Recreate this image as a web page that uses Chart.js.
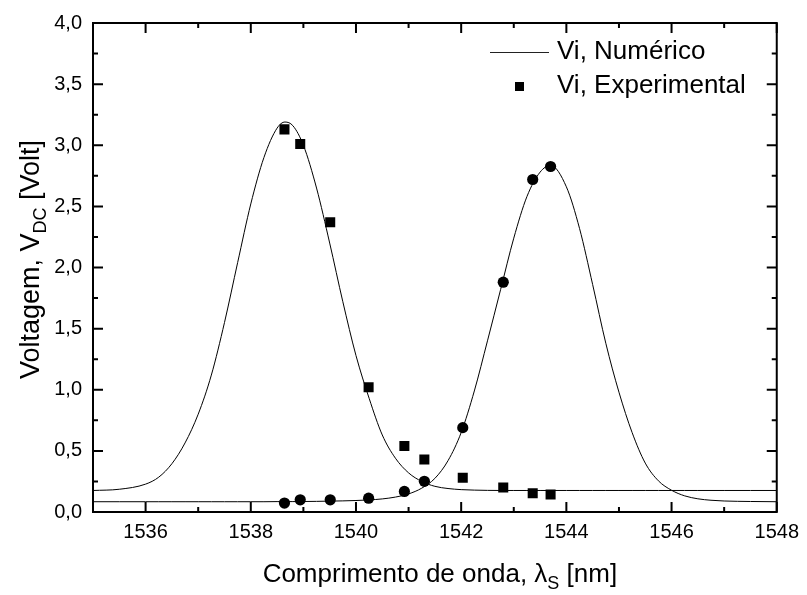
<!DOCTYPE html>
<html><head><meta charset="utf-8">
<script src="https://cdn.jsdelivr.net/npm/chart.js@4/dist/chart.umd.min.js"></script>
<style>html,body{margin:0;padding:0;background:#fff}#wrap{width:807px;height:595px}</style>
</head><body><div id="wrap"><canvas id="c" width="807" height="595"></canvas></div>
<script>
const curveX = [1535, 1535.5, 1536, 1536.25, 1536.5, 1536.75, 1537, 1537.25, 1537.5, 1537.75,
  1538, 1538.25, 1538.5, 1538.65, 1538.8, 1539, 1539.25, 1539.5, 1539.75, 1540,
  1540.25, 1540.5, 1540.75, 1541, 1541.25, 1541.5, 1541.75, 1542, 1542.25, 1542.5,
  1542.75, 1543, 1543.25, 1543.5, 1543.7, 1544, 1544.25, 1544.5, 1544.75, 1545,
  1545.25, 1545.5, 1545.75, 1546, 1546.25, 1546.5, 1546.75, 1547, 1547.5, 1548];
const numericoPico1 = [0.176, 0.186, 0.228, 0.285, 0.395, 0.565, 0.80, 1.12, 1.55, 2.04,
  2.52, 2.90, 3.14, 3.19, 3.16, 3.00, 2.65, 2.20, 1.72, 1.28,
  0.93, 0.63, 0.44, 0.32, 0.25, 0.21, 0.192, 0.183, 0.179, 0.177,
  0.176, 0.176, 0.176, 0.176, 0.176, 0.176, 0.176, 0.176, 0.176, 0.176,
  0.176, 0.176, 0.176, 0.176, 0.176, 0.176, 0.176, 0.176, 0.176, 0.176];
const numericoPico2 = [0.084, 0.084, 0.084, 0.084, 0.084, 0.084, 0.084, 0.084, 0.084, 0.084,
  0.084, 0.084, 0.085, 0.085, 0.085, 0.086, 0.087, 0.089, 0.091, 0.094,
  0.099, 0.107, 0.122, 0.148, 0.195, 0.275, 0.42, 0.65, 0.99, 1.40,
  1.82, 2.24, 2.58, 2.78, 2.835, 2.66, 2.32, 1.86, 1.38, 0.98,
  0.65, 0.40, 0.255, 0.178, 0.132, 0.108, 0.096, 0.090, 0.086, 0.084];
const expX = [1538.64, 1538.94, 1539.51, 1540.24, 1540.92, 1541.30, 1542.03, 1542.80, 1543.36, 1543.70];
const expQuadrados = [3.13, 3.01, 2.37, 1.02, 0.54, 0.43, 0.28, 0.20, 0.154, 0.143];
const expCirculos = [0.073, 0.10, 0.10, 0.113, 0.168, 0.251, 0.69, 1.88, 2.72, 2.826];
const xTicks = [1536, 1538, 1540, 1542, 1544, 1546, 1548];
const xTickLabels = ['1536', '1538', '1540', '1542', '1544', '1546', '1548'];
const xMinorTicks = [1537, 1539, 1541, 1543, 1545, 1547];
const yTicks = [0, 0.5, 1, 1.5, 2, 2.5, 3, 3.5, 4];
const yTickLabels = ['0,0', '0,5', '1,0', '1,5', '2,0', '2,5', '3,0', '3,5', '4,0'];
const yMinorTicks = [0.25, 0.75, 1.25, 1.75, 2.25, 2.75, 3.25, 3.75];
const seriesLabels = ['Vi, Numérico', 'Vi, Experimental'];

const FONT = "'Liberation Sans', Arial, sans-serif";

function drawRich(ctx, parts, cx, y) {
  let total = 0;
  parts.forEach(p => { ctx.font = p.size + 'px ' + FONT; p.w = ctx.measureText(p.t).width; total += p.w; });
  let x = cx - total / 2;
  ctx.textAlign = 'left';
  ctx.textBaseline = 'alphabetic';
  parts.forEach(p => { ctx.font = p.size + 'px ' + FONT; ctx.fillText(p.t, x, y + (p.dy || 0)); x += p.w; });
}

const framePlugin = {
  id: 'frame',
  afterDraw(chart) {
    const ctx = chart.ctx;
    const a = chart.chartArea;
    const xs = chart.scales.x, ys = chart.scales.y;
    ctx.save();
    ctx.strokeStyle = '#000';
    ctx.lineWidth = 2;
    ctx.beginPath();
    xTicks.forEach(v => { const p = xs.getPixelForValue(v);
      ctx.moveTo(p, a.bottom); ctx.lineTo(p, a.bottom - 10);
      ctx.moveTo(p, a.top); ctx.lineTo(p, a.top + 10); });
    xMinorTicks.forEach(v => { const p = xs.getPixelForValue(v);
      ctx.moveTo(p, a.bottom); ctx.lineTo(p, a.bottom - 5);
      ctx.moveTo(p, a.top); ctx.lineTo(p, a.top + 5); });
    yTicks.forEach(v => { const p = ys.getPixelForValue(v);
      ctx.moveTo(a.left, p); ctx.lineTo(a.left + 10, p);
      ctx.moveTo(a.right, p); ctx.lineTo(a.right - 10, p); });
    yMinorTicks.forEach(v => { const p = ys.getPixelForValue(v);
      ctx.moveTo(a.left, p); ctx.lineTo(a.left + 5, p);
      ctx.moveTo(a.right, p); ctx.lineTo(a.right - 5, p); });
    ctx.stroke();
    ctx.strokeRect(a.left, a.top, a.right - a.left, a.bottom - a.top);

    // legend
    ctx.fillStyle = '#000';
    ctx.lineWidth = 1;
    ctx.strokeStyle = '#222';
    ctx.beginPath(); ctx.moveTo(490, 52.5); ctx.lineTo(549, 52.5); ctx.stroke();
    ctx.fillRect(515, 82, 9, 9);
    ctx.font = '26px ' + FONT;
    ctx.textAlign = 'left';
    ctx.textBaseline = 'middle';
    ctx.fillText(seriesLabels[0], 557, 52);
    ctx.fillText(seriesLabels[1], 557, 86);

    // axis titles
    drawRich(ctx, [{t: 'Comprimento de onda, λ', size: 26}, {t: 'S', size: 18, dy: 7}, {t: ' [nm]', size: 26}],
      (a.left + a.right) / 2 + 5, 582);
    ctx.save();
    ctx.translate(39, (a.top + a.bottom) / 2 - 8);
    ctx.rotate(-Math.PI / 2);
    drawRich(ctx, [{t: 'Voltagem, V', size: 27}, {t: 'DC', size: 18, dy: 7}, {t: ' [Volt]', size: 27}], 0, 0);
    ctx.restore();
    ctx.restore();
  }
};

const lineStyle = {showLine: true, borderColor: '#000', borderWidth: 1, pointRadius: 0, cubicInterpolationMode: 'monotone', fill: false};

new Chart(document.getElementById('c'), {
  type: 'scatter',
  data: {datasets: [
    Object.assign({label: seriesLabels[0], data: curveX.map((x, i) => ({x, y: numericoPico1[i]}))}, lineStyle),
    Object.assign({label: seriesLabels[0], data: curveX.map((x, i) => ({x, y: numericoPico2[i]}))}, lineStyle),
    {label: seriesLabels[1], data: expX.map((x, i) => ({x, y: expQuadrados[i]})), pointStyle: 'rect', pointRadius: 7.1, backgroundColor: '#000', borderColor: '#000', borderWidth: 0},
    {label: 'Vi, Experimental (2)', data: expX.map((x, i) => ({x, y: expCirculos[i]})), pointStyle: 'circle', pointRadius: 5.6, backgroundColor: '#000', borderColor: '#000', borderWidth: 0}
  ]},
  options: {
    responsive: false, animation: false, devicePixelRatio: 1,
    layout: {padding: {top: 17, right: 25, left: 0, bottom: 0}},
    plugins: {legend: {display: false}, tooltip: {enabled: false}},
    scales: {
      x: {type: 'linear', min: 1535, max: 1548,
        afterBuildTicks: s => { s.ticks = xTicks.map(v => ({value: v})); },
        afterFit: s => { s.height = 83; },
        grid: {display: false, drawTicks: false}, border: {display: false},
        ticks: {padding: 8, color: '#000', maxRotation: 0, autoSkip: false, font: {family: FONT, size: 20},
          callback: v => xTickLabels[xTicks.indexOf(v)]}},
      y: {type: 'linear', min: 0, max: 4,
        afterBuildTicks: s => { s.ticks = yTicks.map(v => ({value: v})); },
        afterFit: s => { s.width = 93; },
        grid: {display: false, drawTicks: false}, border: {display: false},
        ticks: {padding: 11, color: '#000', autoSkip: false, font: {family: FONT, size: 20},
          callback: v => yTickLabels[yTicks.indexOf(v)]}}
    }
  },
  plugins: [framePlugin]
});
</script>
</body></html>
